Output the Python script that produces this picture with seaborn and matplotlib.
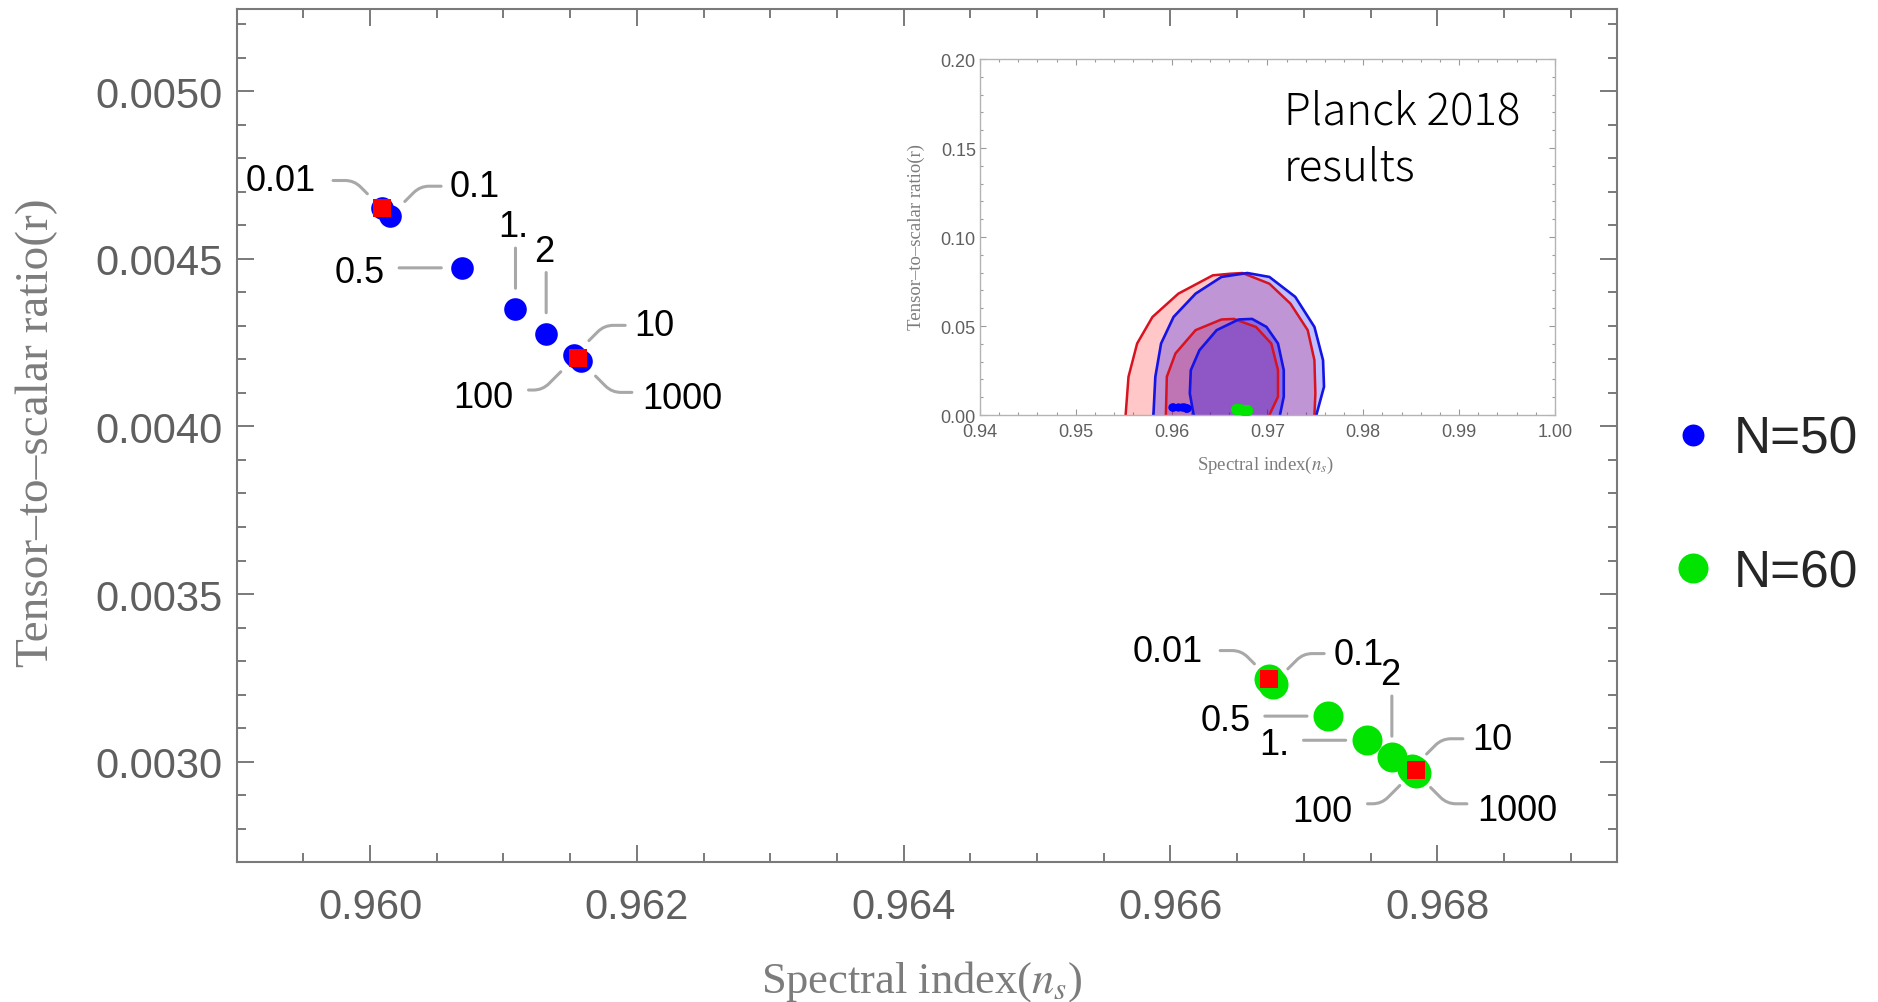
import matplotlib
matplotlib.use("Agg")
import matplotlib.pyplot as plt
import numpy as np
import pandas as pd
import seaborn as sns
from matplotlib.lines import Line2D
from matplotlib.ticker import MultipleLocator, FormatStrFormatter

# ---- data -------------------------------------------------------------
params = ["0.01", "0.1", "0.5", "1.", "2", "10", "100", "1000"]

ns_n50 = [0.96009, 0.96015, 0.96069, 0.96109, 0.96132, 0.96153, 0.96154, 0.96158]
r_n50 = [0.004650, 0.004627, 0.004473, 0.004350, 0.004277, 0.004212, 0.004207, 0.004194]

ns_n60 = [0.96674, 0.96677, 0.96718, 0.96747, 0.96766, 0.96781, 0.96783, 0.96784]
r_n60 = [0.003248, 0.003233, 0.003136, 0.003064, 0.003014, 0.002979, 0.002973, 0.002967]

ns_limit = [0.960091, 0.96156, 0.966742, 0.96784]
r_limit = [0.004650, 0.004204, 0.003248, 0.002974]

# label placement for each parameter value
dirs_n50 = ["ul", "ur", "l", "u", "u", "ur", "dl", "dr"]
dirs_n60 = ["ul", "ur", "l", "l", "u", "ur", "dl", "dr"]

# Planck 2018 confidence regions (n_s, r)
red95_ns = [0.9552, 0.9555, 0.9564, 0.9580, 0.9607, 0.9643, 0.9661, 0.9674,
            0.9702, 0.9724, 0.9742, 0.9749, 0.9750, 0.9749]
red95_r = [0.0, 0.0215, 0.0402, 0.0551, 0.0682, 0.0785, 0.0794, 0.0798,
           0.0738, 0.0626, 0.0477, 0.0308, 0.0121, 0.0]
red68_ns = [0.9594, 0.9595, 0.9604, 0.9625, 0.9652, 0.9665, 0.9688, 0.9704,
            0.9711, 0.9711, 0.9702]
red68_r = [0.0, 0.0215, 0.0346, 0.0477, 0.0537, 0.0540, 0.0495, 0.0402,
           0.0252, 0.0103, 0.0]
blue95_ns = [0.9581, 0.9583, 0.9589, 0.9602, 0.9625, 0.9652, 0.9679, 0.9702,
             0.9729, 0.9749, 0.9758, 0.9759, 0.9751]
blue95_r = [0.0, 0.0215, 0.0402, 0.0551, 0.0682, 0.0776, 0.0798, 0.0776,
            0.0664, 0.0495, 0.0308, 0.0159, 0.0]
blue68_ns = [0.9623, 0.9619, 0.9620, 0.9629, 0.9647, 0.9670, 0.9684, 0.9699,
             0.9711, 0.9717, 0.9717, 0.9713]
blue68_r = [0.0, 0.0121, 0.0252, 0.0364, 0.0477, 0.0537, 0.0540, 0.0495,
            0.0402, 0.0252, 0.0103, 0.0]

legend_labels = ["N=50", "N=60"]

# ---- style ------------------------------------------------------------
sns.set_theme(style="white")
plt.rcParams["font.family"] = ["Liberation Sans", "DejaVu Sans"]
plt.rcParams["mathtext.fontset"] = "stix"

BLUE = "#0000ff"
GREEN = "#00e400"
RED = "#ff0000"
FRAME = "#7a7a7a"
TICKTXT = "#5f5f5f"
LABELTXT = "#7c7c7c"
LEADER = "#a8a8a8"

# pixel offsets (x right, y up): label anchor, leader start, leader shape
LAYOUT = {
    "ul": dict(text=(-66, 18), ha="right", lead=(-49, 28),
               conn="angle,angleA=0,angleB=135,rad=9"),
    "ur": dict(text=(60, 20), ha="left", lead=(51, 30),
               conn="angle,angleA=0,angleB=45,rad=9"),
    "l": dict(text=(-77, -14), ha="right", lead=(-63, 0), conn="arc3"),
    "u": dict(text=(-2, 73), ha="center", lead=(0, 61), conn="arc3"),
    "dl": dict(text=(-62, -50), ha="right", lead=(-47, -33),
               conn="angle,angleA=0,angleB=45,rad=9"),
    "dr": dict(text=(61, -47), ha="left", lead=(51, -31),
               conn="angle,angleA=0,angleB=135,rad=9"),
}

fig = plt.figure(figsize=(18.78, 10.03), dpi=100)
ax = fig.add_axes([0.12604, 0.13928, 0.73514, 0.85075])

df50 = pd.DataFrame({"ns": ns_n50, "r": r_n50})
df60 = pd.DataFrame({"ns": ns_n60, "r": r_n60})
dflim = pd.DataFrame({"ns": ns_limit, "r": r_limit})

sns.scatterplot(data=df50, x="ns", y="r", color=BLUE, s=265, linewidth=0,
                ax=ax, zorder=3)
sns.scatterplot(data=df60, x="ns", y="r", color=GREEN, s=467, linewidth=0,
                ax=ax, zorder=3)
sns.scatterplot(data=dflim, x="ns", y="r", color=RED, marker="s", s=187,
                linewidth=0, ax=ax, zorder=4)


def label_points(axis, xs, ys, dirs):
    for txt, x, y, d in zip(params, xs, ys, dirs):
        lay = LAYOUT[d]
        axis.annotate("", xy=(x, y), xytext=lay["lead"], textcoords="offset pixels",
                      arrowprops=dict(arrowstyle="-", color=LEADER, lw=2.2,
                                      shrinkA=0, shrinkB=15,
                                      connectionstyle=lay["conn"]),
                      zorder=2)
        axis.annotate(txt, xy=(x, y), xytext=lay["text"], textcoords="offset pixels",
                      ha=lay["ha"], va="baseline", fontsize=26, color="black",
                      zorder=5)


label_points(ax, ns_n50, r_n50, dirs_n50)
label_points(ax, ns_n60, r_n60, dirs_n60)

ax.set_xlim(0.959, 0.96935)
ax.set_ylim(0.0027, 0.005245)
ax.xaxis.set_major_locator(MultipleLocator(0.002))
ax.xaxis.set_minor_locator(MultipleLocator(0.0005))
ax.yaxis.set_major_locator(MultipleLocator(0.0005))
ax.yaxis.set_minor_locator(MultipleLocator(0.0001))
ax.xaxis.set_major_formatter(FormatStrFormatter("%.3f"))
ax.yaxis.set_major_formatter(FormatStrFormatter("%.4f"))
ax.tick_params(which="both", direction="in", top=True, right=True,
               bottom=True, left=True, color=FRAME, width=1.4)
ax.tick_params(which="major", length=12, labelsize=30, labelcolor=TICKTXT)
ax.tick_params(which="minor", length=6.8)
ax.tick_params(axis="x", which="major", pad=18)
ax.tick_params(axis="y", which="major", pad=10)
for sp in ax.spines.values():
    sp.set_color(FRAME)
    sp.set_linewidth(1.5)

ax.set_xlabel("Spectral index($n_s$)", family="Liberation Serif",
              fontsize=32, color=LABELTXT)
ax.set_ylabel("Tensor\u2013to\u2013scalar ratio(r)", family="Liberation Serif",
              fontsize=34, color=LABELTXT)
ax.xaxis.set_label_coords(0.4964, -0.112)
ax.yaxis.set_label_coords(-0.1294, 0.505)

# ---- inset: Planck 2018 constraints ------------------------------------
axi = fig.add_axes([0.5218, 0.5852, 0.3062, 0.3549])
axi.fill(red95_ns, red95_r, color=(1, 0, 0), alpha=0.22, lw=0)
axi.fill(red68_ns, red68_r, color=(1, 0, 0), alpha=0.22, lw=0)
axi.plot(red95_ns, red95_r, color="#d8121e", lw=1.8, solid_joinstyle="round")
axi.plot(red68_ns, red68_r, color="#d8121e", lw=1.8, solid_joinstyle="round")
axi.fill(blue95_ns, blue95_r, color=(0, 0, 1), alpha=0.25, lw=0)
axi.fill(blue68_ns, blue68_r, color=(0, 0, 1), alpha=0.25, lw=0)
axi.plot(blue95_ns, blue95_r, color="#1414e6", lw=1.9, solid_joinstyle="round")
axi.plot(blue68_ns, blue68_r, color="#1414e6", lw=1.9, solid_joinstyle="round")

sns.scatterplot(data=df50, x="ns", y="r", color=BLUE, s=36, linewidth=0,
                ax=axi, zorder=4)
sns.scatterplot(data=df60, x="ns", y="r", color=GREEN, s=62, linewidth=0,
                ax=axi, zorder=4)

axi.set_xlim(0.94, 1.00)
axi.set_ylim(0.0, 0.20)
axi.xaxis.set_major_locator(MultipleLocator(0.01))
axi.xaxis.set_minor_locator(MultipleLocator(0.002))
axi.yaxis.set_major_locator(MultipleLocator(0.05))
axi.yaxis.set_minor_locator(MultipleLocator(0.01))
axi.xaxis.set_major_formatter(FormatStrFormatter("%.2f"))
axi.yaxis.set_major_formatter(FormatStrFormatter("%.2f"))
axi.tick_params(which="both", direction="in", top=True, right=True,
                bottom=True, left=True, color="#9a9a9a", width=0.8)
axi.tick_params(which="major", length=4, labelsize=13, labelcolor=TICKTXT)
axi.tick_params(axis="x", which="major", pad=6)
axi.tick_params(axis="y", which="major", pad=3)
axi.tick_params(which="minor", length=2.5)
for sp in axi.spines.values():
    sp.set_color("#b4b4b4")
    sp.set_linewidth(1.0)
axi.set_xlabel("Spectral index($n_s$)", family="Liberation Serif",
               fontsize=13.5, color=LABELTXT)
axi.set_ylabel("Tensor\u2013to\u2013scalar ratio(r)", family="Liberation Serif",
               fontsize=13.5, color=LABELTXT)
axi.xaxis.set_label_coords(0.496, -0.108)
axi.yaxis.set_label_coords(-0.0957, 0.503)

axi.text(0.5286, 0.663, "Planck 2018\nresults", transform=axi.transAxes,
         family=["Noto Sans CJK JP", "DejaVu Sans"], fontsize=31.5,
         weight="light", color="black", ha="left", va="baseline",
         linespacing=1.3)

# ---- legend -----------------------------------------------------------
handles = [
    Line2D([], [], ls="none", marker="o", color=BLUE, markersize=15.8,
           markeredgewidth=0),
    Line2D([], [], ls="none", marker="o", color=GREEN, markersize=21.6,
           markeredgewidth=0),
]
fig.legend(handles, legend_labels, loc="center left",
           bbox_to_anchor=(1672 / 1878, 0.4945), frameon=False, fontsize=37,
           handlelength=0.8, handletextpad=0.4, labelspacing=1.65,
           borderpad=0, borderaxespad=0)

fig.savefig("out.png", dpi=100)
